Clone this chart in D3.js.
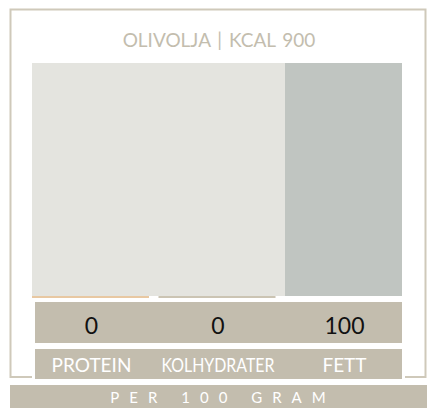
<!DOCTYPE html>
<html>
<head>
<meta charset="utf-8">
<script src="https://cdn.jsdelivr.net/npm/d3@7"></script>
<style>
  body { margin: 0; background: #fff; }
  text { font-family: Lato, "Open Sans", sans-serif; }
</style>
</head>
<body>
<div id="chart"></div>
<script>
// Data
var title = "OLIVOLJA | KCAL 900";
var categories = ["PROTEIN", "KOLHYDRATER", "FETT"];
var values = [0, 0, 100];
var barColors = ["#e8c8a2", "#cbc4b3", "#c0c5c1"];
var footer = "PER 100 GRAM";

var width = 432, height = 416;
var tan = "#c3bdae";
var maxLabelWidth = 113;

var svg = d3.select("#chart").append("svg")
    .attr("width", width)
    .attr("height", height);

var x = d3.scaleBand()
    .domain(categories)
    .range([32, 402])
    .paddingInner(0.075)
    .paddingOuter(0);

var y = d3.scaleLinear()
    .domain([0, 100])
    .range([296, 63]);

// frame, open at the bottom where the label box sits
svg.append("path")
    .attr("d", "M32,377 H10.5 V9.5 H425.5 V377 H405")
    .attr("fill", "none")
    .attr("stroke", "#cfc9ba")
    .attr("stroke-width", 2);

svg.append("text")
    .attr("x", 219)
    .attr("y", 47)
    .attr("text-anchor", "middle")
    .attr("font-size", 19)
    .attr("word-spacing", 2)
    .attr("fill", tan)
    .text(title);

// plot background
svg.append("rect")
    .attr("x", 32)
    .attr("y", y(100))
    .attr("width", 370)
    .attr("height", y(0) - y(100))
    .attr("fill", "#e4e4df");

var bars = svg.selectAll(".bar")
    .data(values)
    .enter().append("g")
    .attr("class", "bar");

bars.append("rect")
    .attr("x", function(d, i) { return x(categories[i]); })
    .attr("y", function(d) { return y(d); })
    .attr("width", x.bandwidth())
    .attr("height", function(d) { return y(0) - y(d); })
    .attr("fill", function(d, i) { return barColors[i]; });

// baseline stub so empty bars still show their colour
bars.append("rect")
    .attr("x", function(d, i) { return x(categories[i]); })
    .attr("y", y(0))
    .attr("width", x.bandwidth())
    .attr("height", 2)
    .attr("fill", function(d, i) { return d > 0 ? "#fff" : barColors[i]; });

// value row
svg.append("rect")
    .attr("x", 35).attr("y", 302)
    .attr("width", 367).attr("height", 41)
    .attr("fill", tan);

svg.selectAll(".val")
    .data(values)
    .enter().append("text")
    .attr("class", "val")
    .attr("x", function(d, i) { return x(categories[i]) + x.bandwidth() / 2 + 1; })
    .attr("y", 334)
    .attr("text-anchor", "middle")
    .attr("font-size", 23)
    .attr("fill", "#111")
    .text(function(d) { return d; });

// label row
svg.append("rect")
    .attr("x", 35).attr("y", 349)
    .attr("width", 367).attr("height", 30)
    .attr("fill", tan);

svg.selectAll(".lbl")
    .data(categories)
    .enter().append("text")
    .attr("class", "lbl")
    .attr("x", function(d) { return x(d) + x.bandwidth() / 2 + 1; })
    .attr("y", 372)
    .attr("text-anchor", "middle")
    .attr("font-size", 19)
    .attr("fill", "#fff")
    .text(function(d) { return d; })
    .each(function() {
      // long labels are squeezed like a condensed face
      if (this.getComputedTextLength() > maxLabelWidth) {
        d3.select(this)
          .attr("textLength", maxLabelWidth)
          .attr("lengthAdjust", "spacingAndGlyphs");
      }
    });

// footer
svg.append("rect")
    .attr("x", 10).attr("y", 385)
    .attr("width", 417).attr("height", 23)
    .attr("fill", tan);

svg.append("text")
    .attr("x", 218 + 5)
    .attr("y", 403)
    .attr("text-anchor", "middle")
    .attr("font-size", 15)
    .attr("letter-spacing", 10)
    .attr("fill", "#fff")
    .text(footer);
</script>
</body>
</html>
